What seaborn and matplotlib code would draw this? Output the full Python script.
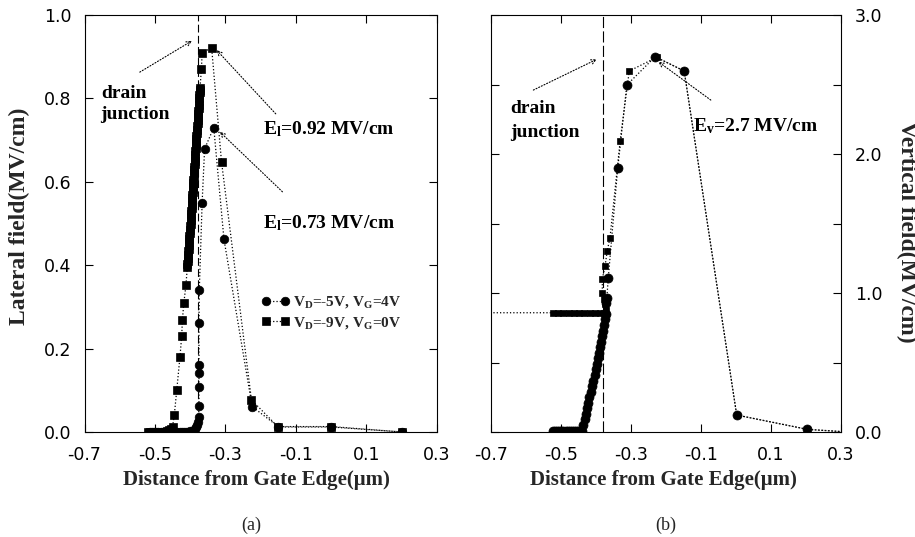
import matplotlib
matplotlib.use("Agg")
import matplotlib.pyplot as plt
import seaborn as sns
from matplotlib.ticker import MultipleLocator, FormatStrFormatter

# ---------------- data ----------------
# (a) lateral field, V_D=-5V, V_G=4V (circles)
lat_c_x = [-0.514, -0.508, -0.502, -0.496, -0.490, -0.484, -0.478, -0.472, -0.466, -0.460,
           -0.454, -0.448, -0.442, -0.436, -0.430, -0.424, -0.418, -0.412, -0.406, -0.400,
           -0.395, -0.390, -0.386, -0.383, -0.380, -0.378, -0.376, -0.375, -0.375, -0.375,
           -0.375, -0.375, -0.374, -0.366, -0.359, -0.333, -0.304, -0.224, -0.150, 0.001, 0.202]
lat_c_y = [0.0, 0.0, 0.0, 0.0, 0.0, 0.0, 0.0, 0.0, 0.0, 0.0,
           0.0, 0.0, 0.0, 0.0, 0.0, 0.0, 0.0, 0.0, 0.001, 0.002,
           0.003, 0.005, 0.008, 0.012, 0.017, 0.024, 0.037, 0.063, 0.109, 0.141,
           0.161, 0.261, 0.341, 0.550, 0.679, 0.730, 0.462, 0.061, 0.013, 0.013, 0.0]
# (a) lateral field, V_D=-9V, V_G=0V (squares)
lat_s_x = [-0.520, -0.514, -0.508, -0.502, -0.496, -0.490, -0.484, -0.478, -0.472, -0.466,
           -0.460, -0.455, -0.450, -0.445, -0.438, -0.429, -0.424, -0.422, -0.418, -0.412,
           -0.408, -0.408, -0.407, -0.406, -0.406, -0.405, -0.404, -0.404, -0.403, -0.403,
           -0.402, -0.401, -0.401, -0.400, -0.399, -0.399, -0.398, -0.397, -0.397, -0.396,
           -0.396, -0.395, -0.394, -0.394, -0.393, -0.392, -0.392, -0.391, -0.391, -0.390,
           -0.389, -0.389, -0.388, -0.387, -0.387, -0.386, -0.386, -0.385, -0.384, -0.384,
           -0.383, -0.382, -0.382, -0.381, -0.381, -0.380, -0.379, -0.379, -0.378, -0.377,
           -0.377, -0.376, -0.375, -0.375, -0.374, -0.374, -0.373, -0.373, -0.372,
           -0.368, -0.366, -0.339, -0.311, -0.226, -0.150, 0.001, 0.202]
lat_s_y = [0.0, 0.0, 0.0, 0.0, 0.0, 0.0, 0.0, 0.0, 0.001, 0.002,
           0.004, 0.007, 0.013, 0.041, 0.101, 0.180, 0.230, 0.269, 0.309, 0.352,
           0.396, 0.403, 0.410, 0.418, 0.425, 0.433, 0.440, 0.448, 0.455, 0.463,
           0.470, 0.478, 0.485, 0.493, 0.500, 0.508, 0.515, 0.523, 0.530, 0.538,
           0.545, 0.553, 0.560, 0.568, 0.575, 0.583, 0.590, 0.598, 0.605, 0.613,
           0.620, 0.628, 0.635, 0.643, 0.650, 0.658, 0.665, 0.673, 0.680, 0.688,
           0.695, 0.703, 0.710, 0.718, 0.725, 0.733, 0.740, 0.748, 0.755, 0.763,
           0.770, 0.778, 0.785, 0.793, 0.800, 0.808, 0.815, 0.820, 0.826,
           0.870, 0.910, 0.921, 0.648, 0.077, 0.012, 0.012, 0.0]

# (b) vertical field, V_D=-5V, V_G=4V (circles)
ver_c_x = [-0.523, -0.517, -0.511, -0.505, -0.499, -0.493, -0.487, -0.481, -0.475, -0.469,
           -0.463, -0.457, -0.451, -0.446, -0.441, -0.436, -0.432, -0.429, -0.426, -0.422,
           -0.419, -0.415, -0.412, -0.408, -0.404, -0.400, -0.397, -0.394, -0.391, -0.388,
           -0.386, -0.383, -0.380, -0.378, -0.375, -0.372, -0.372, -0.369, -0.365, -0.338,
           -0.312, -0.231, -0.148, 0.002, 0.204, 0.320]
ver_c_y = [0.005, 0.005, 0.005, 0.005, 0.005, 0.005, 0.005, 0.005, 0.005, 0.005,
           0.005, 0.005, 0.005, 0.006, 0.010, 0.050, 0.090, 0.130, 0.170, 0.210,
           0.250, 0.290, 0.330, 0.370, 0.410, 0.450, 0.490, 0.530, 0.570, 0.610,
           0.650, 0.690, 0.730, 0.770, 0.810, 0.850, 0.930, 0.966, 1.106, 1.897,
           2.496, 2.700, 2.597, 0.122, 0.019, 0.0]
# (b) vertical field, V_D=-9V, V_G=0V (squares)
ver_s_x = [-0.750, -0.523, -0.508, -0.493, -0.478, -0.463, -0.448, -0.433, -0.418, -0.403,
           -0.388, -0.376, -0.372, -0.375, -0.378, -0.382, -0.382, -0.374, -0.368, -0.360,
           -0.331, -0.305, -0.227, -0.148, 0.002, 0.204, 0.320]
ver_s_y = [0.858, 0.858, 0.858, 0.858, 0.858, 0.858, 0.858, 0.858, 0.858, 0.858,
           0.858, 0.858, 0.880, 0.920, 0.960, 1.000, 1.100, 1.196, 1.302, 1.398,
           2.094, 2.597, 2.695, 2.597, 0.122, 0.019, 0.0]

junction_x = -0.379
x_ticks = [-0.7, -0.5, -0.3, -0.1, 0.1, 0.3]
label_c = r"V$_{\mathbf{D}}$=-5V, V$_{\mathbf{G}}$=4V"
label_s = r"V$_{\mathbf{D}}$=-9V, V$_{\mathbf{G}}$=0V"

# ---------------- style ----------------
sns.set_theme(style="white")
plt.rcParams.update({
    "font.family": ["DejaVu Sans"],
    "axes.unicode_minus": False,
    "mathtext.fontset": "custom",
    "mathtext.rm": "Liberation Serif",
    "mathtext.bf": "Liberation Serif:bold",
    "mathtext.it": "Liberation Serif:italic",
    "axes.edgecolor": "black",
    "axes.linewidth": 0.8,
    "xtick.color": "black",
    "ytick.color": "black",
})
SERIF = "Liberation Serif"
TICK_SIZE = 12.5

fig = plt.figure(figsize=(9.15, 5.37), dpi=100)
W, H = 915.0, 537.0
axL = fig.add_axes([84.5 / W, 105 / H, 352.2 / W, 417 / H])
axR = fig.add_axes([491 / W, 105 / H, 350 / W, 417 / H])


def series(ax, x, y, marker, ms, z):
    sns.lineplot(x=x, y=y, ax=ax, sort=False, estimator=None, color="black",
                 linestyle=":", linewidth=0.9, marker=marker, markersize=ms,
                 markeredgecolor="black", markerfacecolor="black",
                 markeredgewidth=0.5, zorder=z, legend=False)
    return ax.lines[-1]


# ---------------- panel (a) ----------------
axL.axvline(junction_x, color="black", lw=0.8, linestyle=(0, (7, 3)), zorder=1)
h_s = series(axL, lat_s_x, lat_s_y, "s", 5.5, 2)
h_c = series(axL, lat_c_x, lat_c_y, "o", 6.2, 3)
axL.set_xlim(-0.7, 0.3)
axL.set_ylim(0.0, 1.0)
axL.set_xticks(x_ticks)
axL.xaxis.set_major_formatter(FormatStrFormatter("%.1f"))
axL.yaxis.set_major_locator(MultipleLocator(0.2))
axL.yaxis.set_major_formatter(FormatStrFormatter("%.1f"))
axL.tick_params(axis="x", direction="in", top=True, bottom=True, length=6,
                width=0.8, labelsize=TICK_SIZE, pad=10)
axL.tick_params(axis="y", direction="in", left=True, right=True, length=6,
                width=0.8, labelsize=TICK_SIZE, pad=9.5)

axL.set_xlabel("Distance from Gate Edge(μm)", family=SERIF, weight="bold", size=15,
               va="center", ha="center")
axL.xaxis.set_label_coords(0.488, -0.115)
axL.set_ylabel("Lateral field(MV/cm)", family=SERIF, weight="bold", size=17,
               va="center", ha="center")
axL.yaxis.set_label_coords(-0.186, 0.518)

leg = axL.legend(handles=[h_c, h_s], labels=[label_c, label_s], loc="center left",
                 bbox_to_anchor=(0.503, 0.286), frameon=False, numpoints=2,
                 handlelength=1.85, handletextpad=0.2, borderpad=0, borderaxespad=0,
                 labelspacing=0.3,
                 prop={"family": SERIF, "weight": "bold", "size": 11})

txt = dict(family=SERIF, weight="bold", size=14, color="black", va="baseline", ha="left")
axL.text(-0.652, 0.801, "drain", **txt)
axL.text(-0.656, 0.750, "junction", **txt)
axL.text(-0.194, 0.715, r"E$_{\mathbf{l}}$=0.92 MV/cm", **txt)
axL.text(-0.194, 0.488, r"E$_{\mathbf{l}}$=0.73 MV/cm", **txt)
arr = dict(arrowstyle="->", linestyle=":", lw=0.8, color="black",
           shrinkA=0, shrinkB=0, mutation_scale=8)
axL.annotate("", xy=(-0.395, 0.938), xytext=(-0.543, 0.863), arrowprops=arr)
axL.annotate("", xy=(-0.325, 0.916), xytext=(-0.157, 0.763), arrowprops=arr)
axL.annotate("", xy=(-0.316, 0.720), xytext=(-0.138, 0.576), arrowprops=arr)

# ---------------- panel (b) ----------------
axR.axvline(junction_x, color="black", lw=0.8, linestyle=(0, (10, 3)), zorder=1)
series(axR, ver_s_x, ver_s_y, "s", 4.8, 2)
series(axR, ver_c_x, ver_c_y, "o", 6.5, 3)
axR.set_xlim(-0.7, 0.3)
axR.set_ylim(0.0, 3.0)
axR.set_xticks(x_ticks)
axR.xaxis.set_major_formatter(FormatStrFormatter("%.1f"))
axR.yaxis.set_major_locator(MultipleLocator(1.0))
axR.yaxis.set_minor_locator(MultipleLocator(0.5))
axR.yaxis.set_major_formatter(FormatStrFormatter("%.1f"))
axR.tick_params(axis="x", direction="in", top=True, bottom=True, length=6,
                width=0.8, labelsize=TICK_SIZE, pad=10)
axR.tick_params(axis="y", which="both", direction="in", left=True, right=True,
                labelleft=False, labelright=True, length=6, width=0.8,
                labelsize=TICK_SIZE, pad=10)
axR.set_xlabel("Distance from Gate Edge(μm)", family=SERIF, weight="bold", size=15,
               va="center", ha="center")
axR.xaxis.set_label_coords(0.494, -0.115)
axR.yaxis.set_label_position("right")
axR.set_ylabel("Vertical field(MV/cm)", family=SERIF, weight="bold", size=17,
               rotation=270, va="center", ha="center")
axR.yaxis.set_label_coords(1.186, 0.48)

axR.text(-0.644, 2.293, "drain", **txt)
axR.text(-0.644, 2.120, "junction", **txt)
axR.text(-0.124, 2.160, r"E$_{\mathbf{v}}$=2.7 MV/cm", **txt)
axR.annotate("", xy=(-0.398, 2.681), xytext=(-0.579, 2.460), arrowprops=arr)
axR.annotate("", xy=(-0.222, 2.664), xytext=(-0.072, 2.388), arrowprops=arr)

for ax in (axL, axR):
    for s in ax.spines.values():
        s.set_color("black")
        s.set_linewidth(0.8)

fig.text(251 / W, 1 - 525 / H, "(a)", family=SERIF, size=13, ha="center", va="center")
fig.text(666 / W, 1 - 525 / H, "(b)", family=SERIF, size=13, ha="center", va="center")

fig.savefig("out.png", dpi=100, facecolor="white")
